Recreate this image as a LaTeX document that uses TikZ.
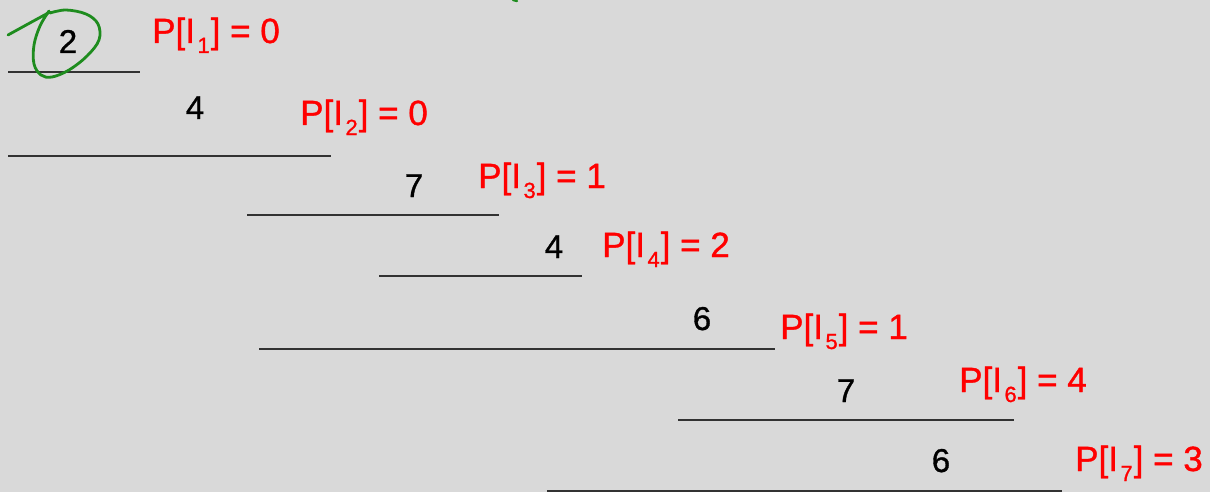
\documentclass[tikz,border=0pt]{standalone}
\usepackage{fontspec}
\setmainfont{Liberation Sans}
\newfontfamily\heavy[FakeBold=1]{Liberation Sans}
\definecolor{bg}{RGB}{217,217,217}
\definecolor{rulec}{RGB}{50,50,50}
\definecolor{lab}{RGB}{255,0,0}
\definecolor{scrib}{RGB}{30,140,30}
\newcommand\plab[2]{P[I\kern2.5pt\raisebox{-10pt}{\fontsize{22}{22}\selectfont #1}\kern1pt] = #2}
\begin{document}
\begin{tikzpicture}[x=1pt,y=-1pt,
  rulel/.style={draw=rulec,line width=1.8pt},
  num/.style={inner sep=0pt,anchor=base,font=\heavy\fontsize{33}{33}\selectfont,text=black},
  plabel/.style={inner sep=0pt,anchor=base west,font=\heavy\fontsize{35}{35}\selectfont,text=lab}]
\useasboundingbox (0,0) rectangle (1210,492);
\fill[bg] (0,0) rectangle (1210,492);
% rules
\draw[rulel] (8,72) -- (140,72);
\draw[rulel] (8,156) -- (331,156);
\draw[rulel] (247,215) -- (499,215);
\draw[rulel] (379,276) -- (582,276);
\draw[rulel] (259,349) -- (775,349);
\draw[rulel] (678,420) -- (1014,420);
\draw[rulel] (547,491) -- (1062,491);
% numbers
\node[num] (n1) at (68,53) {2};
\node[num] (n2) at (195,119) {4};
\node[num] (n3) at (414,197) {7};
\node[num] (n4) at (554,258) {4};
\node[num] (n5) at (702,330) {6};
\node[num] (n6) at (846,402) {7};
\node[num] (n7) at (941,472) {6};
% labels
\node[plabel] (p1) at (152,43) {\plab{1}{0}};
\node[plabel] (p2) at (300,125) {\plab{2}{0}};
\node[plabel] (p3) at (478,188) {\plab{3}{1}};
\node[plabel] (p4) at (602,257) {\plab{4}{2}};
\node[plabel] (p5) at (780,339) {\plab{5}{1}};
\node[plabel] (p6) at (959,392) {\plab{6}{4}};
\node[plabel] (p7) at (1075,471) {\plab{7}{3}};
% green scribble
\draw[scrib,line width=2.8pt,line cap=round,line join=round]
  plot[smooth,tension=0.6] coordinates {(8,35) (28,24) (50,12)};
\draw[scrib,line width=2.8pt,line cap=round,line join=round]
  plot[smooth,tension=0.6] coordinates {(49,11) (40,26) (34,45) (34,64) (41,75) (52,77) (69,70) (87,56) (99,40) (98,24) (86,14) (66,10) (50,13)};
\draw[scrib,line width=2.4pt,line cap=round] (513,0) -- (517,1);
\end{tikzpicture}
\end{document}
